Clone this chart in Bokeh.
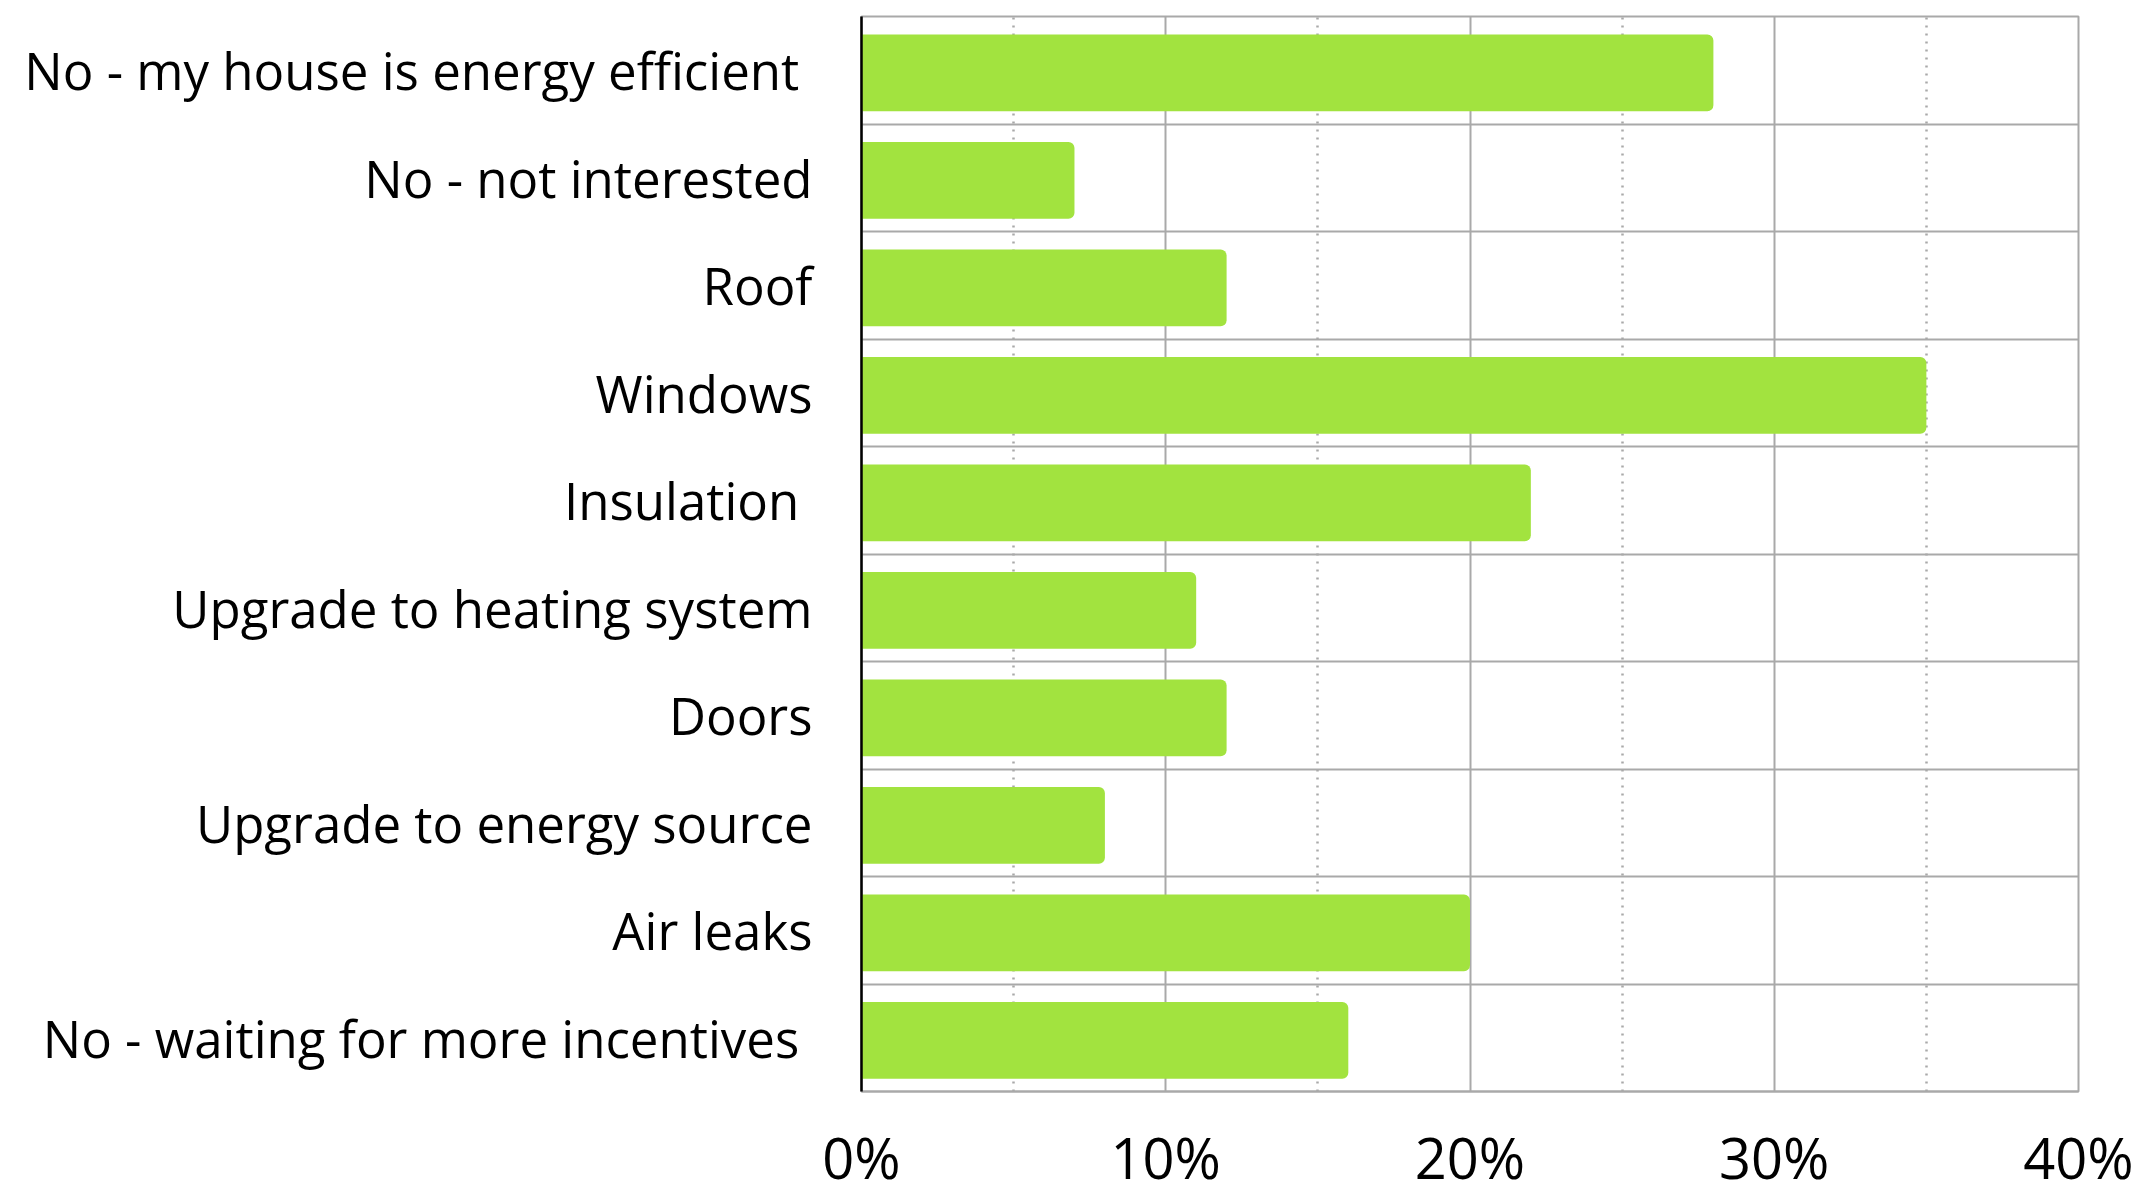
from bokeh.plotting import figure
from bokeh.models import FactorRange, Range1d, FixedTicker, PrintfTickFormatter, Grid
from bokeh.transform import dodge
from bokeh.embed import file_html
from bokeh.resources import INLINE

categories = ["No - my house is energy efficient ", "No - not interested", "Roof", "Windows",
              "Insulation ", "Upgrade to heating system", "Doors", "Upgrade to energy source",
              "Air leaks", "No - waiting for more incentives "]
values = [28, 7, 12, 35, 22, 11, 12, 8, 20, 16]
major_ticks = [0, 10, 20, 30, 40]
minor_ticks = [5, 15, 25, 35]

GRID = "#A9A9A9"
BAR = "#A2E33F"

p = figure(frame_width=1217, frame_height=1075, output_backend="svg", toolbar_location=None,
           y_range=FactorRange(factors=list(reversed(categories)), range_padding=0),
           x_range=Range1d(0, 40),
           min_border_left=861, min_border_right=56, min_border_top=16, min_border_bottom=40)

p.outline_line_color = GRID
p.outline_line_width = 2

p.xgrid.ticker = FixedTicker(ticks=major_ticks)
p.xgrid.grid_line_color = GRID
p.xgrid.grid_line_width = 2
p.ygrid.grid_line_color = None

minor_grid = Grid(dimension=0, ticker=FixedTicker(ticks=minor_ticks),
                  grid_line_color=GRID, grid_line_width=2.5, grid_line_dash="2 6")
p.add_layout(minor_grid)

# category boundaries
p.hspan(y=list(range(1, len(categories))), line_color=GRID, line_width=2)

p.hbar(y=dodge("cat", -0.025, range=p.y_range), right="val", left=0, height=0.715,
       source=dict(cat=categories, val=values), fill_color=BAR, line_color=None,
       border_radius=(0, 6, 6, 0))

p.xaxis.ticker = FixedTicker(ticks=major_ticks)
p.xaxis.formatter = PrintfTickFormatter(format="%d%%")
p.xaxis.axis_line_color = GRID
p.xaxis.axis_line_width = 2
p.xaxis.major_tick_line_color = None
p.xaxis.minor_tick_line_color = None
p.xaxis.major_label_text_font = "Open Sans"
p.xaxis.major_label_text_font_size = "56px"
p.xaxis.major_label_text_color = "#000000"
p.xaxis.major_label_standoff = 21

p.yaxis.axis_line_color = "#000000"
p.yaxis.axis_line_width = 2.5
p.yaxis.major_tick_line_color = None
p.yaxis.minor_tick_line_color = None
p.yaxis.major_label_text_font = "Open Sans"
p.yaxis.major_label_text_font_size = "51px"
p.yaxis.major_label_text_color = "#000000"
p.yaxis.major_label_standoff = 43

open("out.html", "w").write(file_html(p, INLINE))
